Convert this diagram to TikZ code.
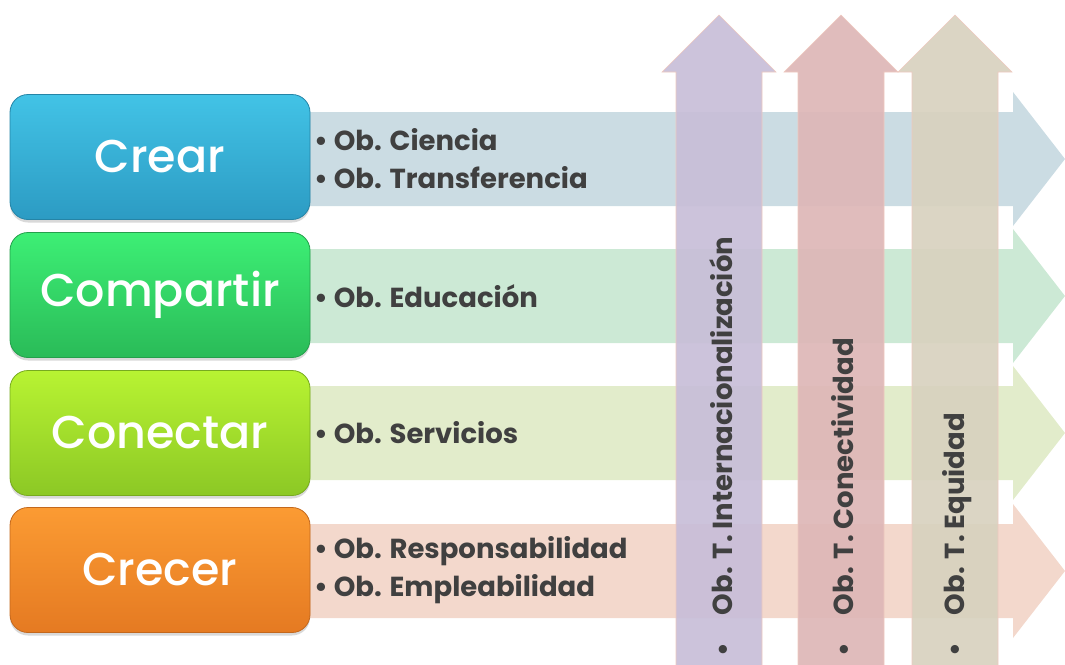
\documentclass[tikz,border=0pt]{standalone}
\usepackage{fontspec}
\setmainfont{Poppins}
\newfontfamily\titlefont{Poppins Medium}
\usetikzlibrary{positioning,shadows}

\definecolor{textgray}{HTML}{404040}
\definecolor{crearA}{HTML}{42C3E6}
\definecolor{crearB}{HTML}{2C9BC3}
\definecolor{compA}{HTML}{3DEF75}
\definecolor{compB}{HTML}{2ABB58}
\definecolor{conA}{HTML}{B8F332}
\definecolor{conB}{HTML}{8CC825}
\definecolor{creA}{HTML}{FB9B33}
\definecolor{creB}{HTML}{E57A22}
\definecolor{arrowcrear}{HTML}{CBDCE3}
\definecolor{arrowcompartir}{HTML}{CCE9D5}
\definecolor{arrowconectar}{HTML}{E2ECCB}
\definecolor{arrowcrecer}{HTML}{F3D8CC}
\definecolor{uparrowint}{HTML}{C8BED8}
\definecolor{uparrowcon}{HTML}{DEB7B7}
\definecolor{uparroweq}{HTML}{D8D2BF}
\definecolor{uparrowedge}{HTML}{EFC9BF}

% horizontal band: centre y, colour
\newcommand{\hband}[2]{%
  \fill[#2] (300,-#1+47) -- (1013,-#1+47) -- (1013,-#1+67) -- (1065,-#1)
    -- (1013,-#1-67) -- (1013,-#1-47) -- (300,-#1-47) -- cycle;}
% vertical band: centre x, colour
\newcommand{\vband}[2]{%
  \filldraw[fill=#2, draw=uparrowedge, line width=0.6pt, fill opacity=0.93]
    (#1-43,-670) -- (#1-43,-72) -- (#1-57,-72) -- (#1,-15)
    -- (#1+57,-72) -- (#1+43,-72) -- (#1+43,-670) -- cycle;}

\tikzset{
  objbox/.style={rounded corners=18pt, minimum width=300pt, minimum height=125pt,
    text=white, font=\titlefont\fontsize{46}{46}\selectfont, line width=0.8pt,
    drop shadow={opacity=0.3, shadow xshift=0pt, shadow yshift=-3pt}},
  objlist/.style={anchor=west, align=left, text=textgray, inner sep=0pt,
    font=\bfseries\fontsize{27.5}{38}\selectfont},
  axislabel/.style={rotate=90, anchor=west, text=textgray, inner sep=0pt,
    font=\bfseries\fontsize{27.5}{30}\selectfont},
}

\begin{document}
\begin{tikzpicture}[x=1pt,y=1pt]
    \useasboundingbox (0,0) rectangle (1065,-664);

    \hband{159}{arrowcrear}
    \hband{296}{arrowcompartir}
    \hband{433}{arrowconectar}
    \hband{571}{arrowcrecer}

    \node[objbox, top color=crearA, bottom color=crearB, draw=crearB!85!black] (crear) at (160,-157) {Crear};
    \node[objbox, top color=compA, bottom color=compB, draw=compB!85!black] (compartir) at (160,-295) {Compartir};
    \node[objbox, top color=conA, bottom color=conB, draw=conB!85!black] (conectar) at (160,-433) {Conectar};
    \node[objbox, top color=creA, bottom color=creB, draw=creB!85!black] (crecer) at (160,-570) {Crecer};

    \node[objlist] (lcrear) at (314,-159) {\textbullet~Ob. Ciencia\\\textbullet~Ob. Transferencia};
    \node[objlist] (lcompartir) at (314,-296) {\textbullet~Ob. Educación};
    \node[objlist] (lconectar) at (314,-433) {\textbullet~Ob. Servicios};
    \node[objlist] (lcrecer) at (314,-570) {\textbullet~Ob. Responsabilidad\\\textbullet~Ob. Empleabilidad};

    \vband{719}{uparrowint}
    \vband{841}{uparrowcon}
    \vband{955}{uparroweq}

    \node[axislabel] (tint) at (721,-657) {\textbullet\hspace{28pt}Ob. T. Internacionalización};
    \node[axislabel] (tcon) at (843,-657) {\textbullet\hspace{28pt}Ob. T. Conectividad};
    \node[axislabel] (teq) at (957,-657) {\textbullet\hspace{28pt}Ob. T. Equidad};
\end{tikzpicture}
\end{document}
